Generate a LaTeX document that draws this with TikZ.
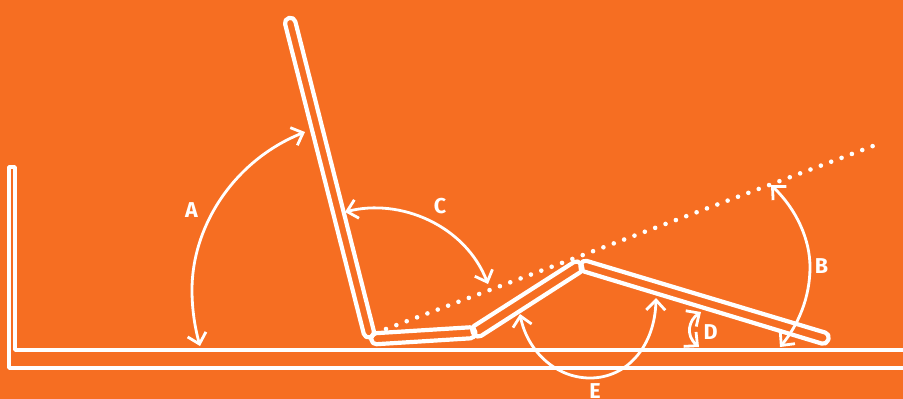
\documentclass[tikz,border=0pt]{standalone}
\usepackage{fontspec}
\setmainfont{Fira Sans}
\usepackage{xcolor}
\usetikzlibrary{arrows.meta}
\definecolor{bgorange}{RGB}{246,110,34}
\begin{document}
\begin{tikzpicture}[
    x=1pt, y=-1pt,
    panel/.style={draw=white, line width=4.2pt, rounded corners=5pt, line join=round},
    frame/.style={draw=white, line width=3.6pt, line join=round, line cap=round},
    arr/.style={{Straight Barb[length=10pt,width=19pt]}-{Straight Barb[length=10pt,width=19pt]}, draw=white, line width=2.8pt},
    lbl/.style={text=white, font=\fontsize{21.5}{22}\selectfont\bfseries, inner sep=0pt}
]
\fill[bgorange] (0,0) rectangle (903,399);
\useasboundingbox (0,0) rectangle (903,399);

% wall and floor
\draw[frame] (903,350) -- (15,350) -- (15,167) -- (9,167) -- (9,368) -- (903,368);

% hinged panels
\draw[panel] (294.1,16.7) -- (375.1,336) -- (365,338.6) -- (283.9,19.3) -- cycle;
\draw[panel] (371,333.5) -- (475,327) -- (475.6,338) -- (371.6,344.5) -- cycle;
\draw[panel] (470,328.5) -- (578,259.5) -- (584.5,269.5) -- (477,338.5) -- cycle;
\draw[panel] (582,259.5) -- (830,334) -- (826.5,345) -- (579,270) -- cycle;

% sight line
\draw[white, line width=4.6pt, line cap=round, dash pattern=on 0pt off 11.06pt] (386,329) -- (873,146);

% angles
\draw[arr] (305,132) .. controls (235,160) and (192,225) .. (192,290) .. controls (192,310) and (195,328) .. (200,346);
\draw[arr] (771,185) .. controls (797,210) and (810,240) .. (810,267) .. controls (810,298) and (798,325) .. (780,347);
\draw[arr] (345,212) .. controls (400,198) and (465,225) .. (488,284);
\draw[arr] (701,312) .. controls (689,320) and (685,335) .. (699,347);
\draw[arr] (520,314) .. controls (527,350) and (555,378) .. (590,378) .. controls (628,378) and (655,345) .. (656,298);

\node[lbl] (lblA) at (191.5,210) {A};
\node[lbl] (lblB) at (821.5,266) {B};
\node[lbl] (lblC) at (440,206) {C};
\node[lbl] (lblD) at (710.5,332) {D};
\node[lbl] (lblE) at (595,391.2) {E};
\end{tikzpicture}
\end{document}
